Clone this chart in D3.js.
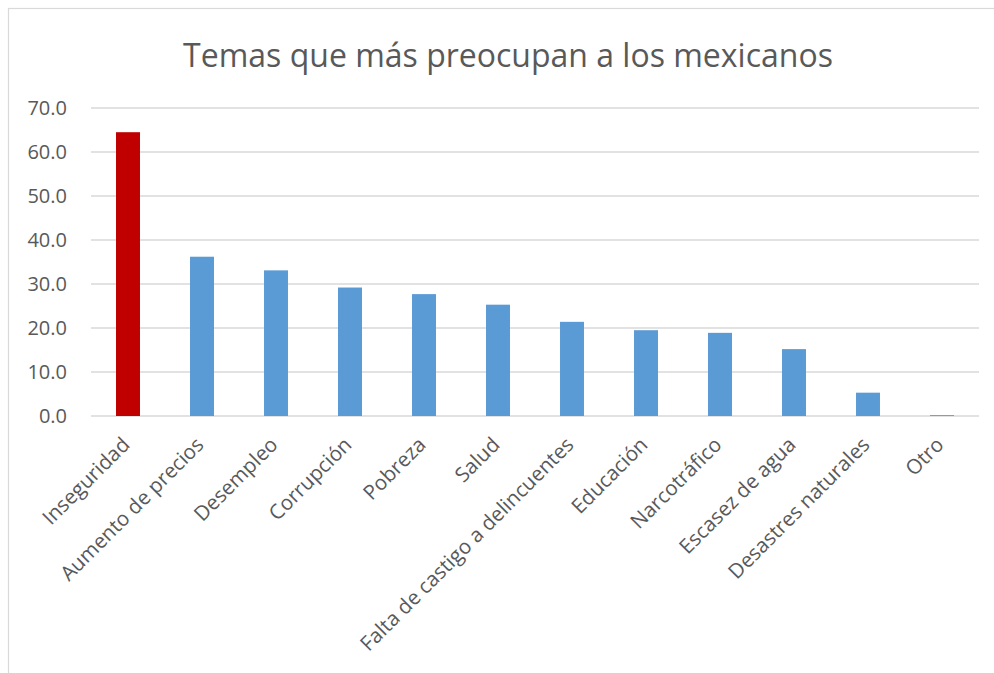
<!DOCTYPE html>
<html>
<head>
<meta charset="utf-8">
<script src="https://cdn.jsdelivr.net/npm/d3@7"></script>
<style>
  body { margin: 0; background: #fff; }
  svg { display: block; }
</style>
</head>
<body>
<script>
var categories = ["Inseguridad", "Aumento de precios", "Desempleo", "Corrupción", "Pobreza", "Salud",
  "Falta de castigo a delincuentes", "Educación", "Narcotráfico", "Escasez de agua", "Desastres naturales", "Otro"];
var values = [64.5, 36.2, 33.1, 29.2, 27.7, 25.3, 21.4, 19.5, 18.9, 15.2, 5.3, 0.2];
var yTicks = [0, 10, 20, 30, 40, 50, 60, 70];

var width = 994, height = 673;
var plotLeft = 91, plotRight = 979, plotTop = 108, plotBottom = 416;

var svg = d3.select("body").append("svg").attr("width", width).attr("height", height);

// chart frame
svg.append("rect")
  .attr("x", 8.5).attr("y", 8.5).attr("width", width + 10).attr("height", height + 10)
  .attr("fill", "none").attr("stroke", "#d9d9d9").attr("stroke-width", 1.2);

var x = d3.scaleBand().domain(categories).range([plotLeft, plotRight]).paddingInner(0.676).paddingOuter(0.338);
var y = d3.scaleLinear().domain([0, 70]).range([plotBottom, plotTop]);

// gridlines
svg.append("g").selectAll("line").data(yTicks).enter().append("line")
  .attr("x1", plotLeft).attr("x2", plotRight)
  .attr("y1", function (d) { return y(d); })
  .attr("y2", function (d) { return y(d); })
  .attr("stroke", "#d9d9d9").attr("stroke-width", 1.5);

// y tick labels
svg.append("g").selectAll("text").data(yTicks).enter().append("text")
  .text(function (d) { return d.toFixed(1); })
  .attr("x", 67)
  .attr("y", function (d) { return y(d) + 7; })
  .attr("text-anchor", "end")
  .attr("font-family", "Open Sans, sans-serif")
  .attr("font-size", 20)
  .attr("fill", "#595959");

// bars
svg.append("g").selectAll("rect").data(values).enter().append("rect")
  .attr("x", function (d, i) { return x(categories[i]); })
  .attr("y", function (d) { return y(d); })
  .attr("width", x.bandwidth())
  .attr("height", function (d) { return y(0) - y(d); })
  .attr("fill", function (d, i) { return i === 0 ? "#c00000" : "#5b9bd5"; });

// x labels
svg.append("g").selectAll("text").data(categories).enter().append("text")
  .text(function (d) { return d; })
  .attr("transform", function (d) {
    return "translate(" + (x(d) + x.bandwidth() / 2 + 3) + ",446) rotate(-45)";
  })
  .attr("text-anchor", "end")
  .attr("font-family", "Open Sans, sans-serif")
  .attr("font-size", 20.5)
  .attr("fill", "#595959");

// title
svg.append("text")
  .text("Temas que más preocupan a los mexicanos")
  .attr("x", 508).attr("y", 67)
  .attr("text-anchor", "middle")
  .attr("font-family", "Open Sans, sans-serif")
  .attr("font-size", 32)
  .attr("fill", "#595959");
</script>
</body>
</html>
